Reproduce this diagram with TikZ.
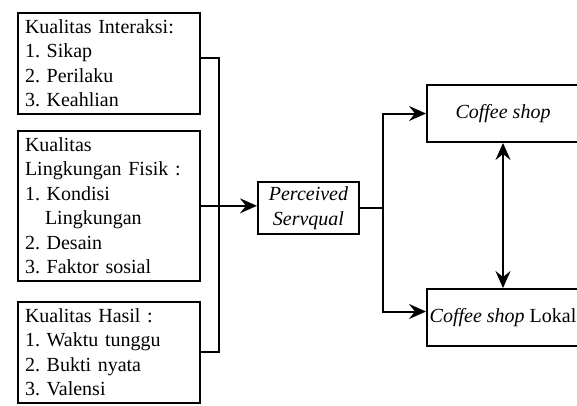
\documentclass[tikz,border=0pt]{standalone}
\usepackage{fontspec}
\setmainfont{Liberation Serif}
\usetikzlibrary{positioning, arrows.meta}

\begin{document}
\begin{tikzpicture}[x=1pt, y=-1pt, line width=2pt,
    >={Stealth[length=17pt, width=15pt, inset=6pt]},
    every node/.style={font=\fontsize{20}{24.5}\selectfont\frenchspacing},
    factor/.style={draw, anchor=north west, text width=168pt, align=left, inner xsep=7pt, inner ysep=6.5pt},
    mid/.style={draw, align=center, inner sep=4.5pt, minimum width=101pt},
    shop/.style={draw, minimum width=152pt, minimum height=57pt, inner sep=2pt}]
\useasboundingbox (0,0) rectangle (577,405);
\node[factor] (inter) at (17,12)  {Kualitas Interaksi:\\ 1. Sikap\\ 2. Perilaku\\ 3. Keahlian};
\node[factor] (fisik) at (17,130) {Kualitas\\ Lingkungan Fisik :\\ 1. Kondisi\\ \hspace*{1em}Lingkungan\\ 2. Desain\\ 3. Faktor sosial};
\node[factor] (hasil) at (17,301) {Kualitas Hasil :\\ 1. Waktu tunggu\\ 2. Bukti nyata\\ 3. Valensi};
\node[mid]    (serv)   at (308.5,208) {\textit{Perceived}\\ \textit{Servqual}};
\node[shop]   (coffee) at (503,113.5) {\textit{Coffee shop}};
\node[shop]   (lokal)  at (503,317.5) {\textit{Coffee shop} Lokal};
\coordinate (bus)   at (219,0);
\coordinate (split) at (383,0);
\coordinate (inter-out) at ([yshift=5pt]inter.east);
\coordinate (lokal-in)  at ([yshift=6pt]lokal.west);

\draw (inter-out) -- (inter-out -| bus) -- (hasil.east -| bus) -- (hasil.east);
\draw[->] (fisik.east) -- (fisik.east -| serv.west);
\draw (serv.east) -- (serv.east -| split);
\draw[->] (serv.east -| split) |- (coffee.west);
\draw[->] (serv.east -| split) |- (lokal-in);
\draw[<->] (coffee.south) -- (lokal.north);
\end{tikzpicture}
\end{document}
